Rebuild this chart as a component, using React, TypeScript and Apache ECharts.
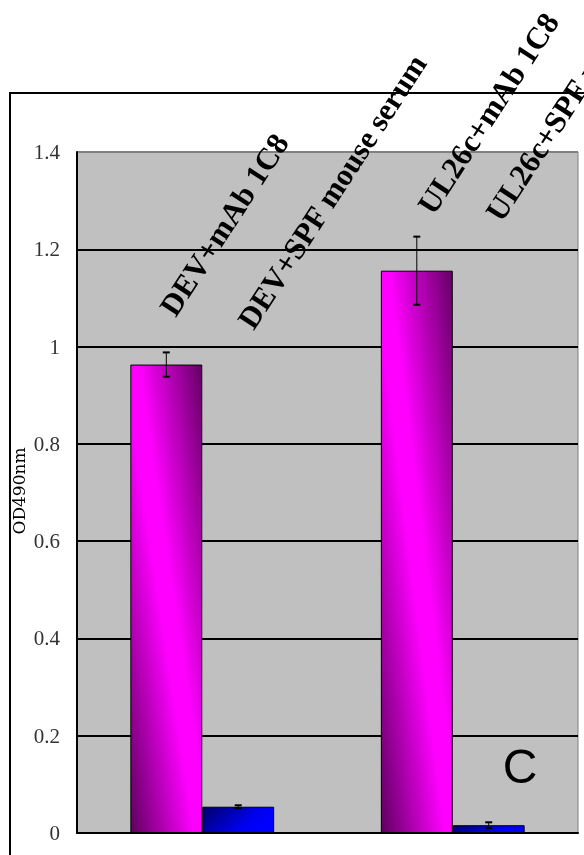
import React, { useEffect, useRef } from 'react';
import * as echarts from 'echarts';

// ---- data ----
const categories = ['DEV', 'UL26c'];
const mAbValues = [0.963, 1.156];
const mAbErrors = [0.025, 0.07];
const spfValues = [0.054, 0.016];
const spfErrors = [0.003, 0.006];
const yTicks = [0, 0.2, 0.4, 0.6, 0.8, 1, 1.2, 1.4];
const barLabels = ['DEV+mAb 1C8', 'DEV+SPF mouse serum', 'UL26c+mAb 1C8', 'UL26c+SPF mouse serum'];
const panelLetter = 'C';
const yName = 'OD490nm';

// ---- layout / style ----
const BAR_RATIO = 0.287;
const labelPos = [
  [180, 321],
  [258, 334],
  [438, 219],
  [506, 226],
];
const LABEL_ANGLE = 57;

export default function App() {
  const ref = useRef<HTMLDivElement>(null);
  useEffect(() => {
    if (!ref.current) return;
    const chart = echarts.init(ref.current, undefined, { renderer: 'svg' });

    const errData: number[][] = [];
    categories.forEach((_, i) => {
      errData.push([i, mAbValues[i], mAbErrors[i], 0]);
      errData.push([i, spfValues[i], spfErrors[i], 1]);
    });

    const magenta = new echarts.graphic.LinearGradient(0, 1, 1, 0, [
      { offset: 0, color: '#5e005e' },
      { offset: 0.45, color: '#ff00ff' },
      { offset: 0.55, color: '#ff00ff' },
      { offset: 1, color: '#640064' },
    ]);
    const blue = new echarts.graphic.LinearGradient(0, 0, 1, 0.4, [
      { offset: 0, color: '#000066' },
      { offset: 0.75, color: '#0000f0' },
      { offset: 1, color: '#0000ff' },
    ]);

    const splitColors = yTicks.map((t, i) => (i === yTicks.length - 1 ? '#808080' : '#000000'));

    const option: any = {
      animation: false,
      grid: {
        left: 77,
        right: 6,
        top: 152,
        bottom: 22,
        show: true,
        backgroundColor: '#C0C0C0',
        borderColor: '#808080',
        borderWidth: 1,
      },
      xAxis: {
        type: 'category',
        data: categories,
        axisLabel: { show: false },
        axisTick: { show: false },
        axisLine: { lineStyle: { color: '#000', width: 2 } },
        z: 5,
      },
      yAxis: {
        type: 'value',
        min: 0,
        max: yTicks[yTicks.length - 1],
        interval: 0.2,
        axisLine: { show: true, lineStyle: { color: '#000', width: 2 } },
        axisTick: { show: false },
        axisLabel: {
          color: '#333',
          fontFamily: 'Liberation Serif, serif',
          fontSize: 21,
          margin: 17,
        },
        splitLine: { show: true, lineStyle: { color: splitColors, width: 2 } },
      },
      series: [
        {
          name: 'mAb 1C8',
          type: 'bar',
          data: mAbValues,
          barWidth: (BAR_RATIO * 100).toFixed(1) + '%',
          barGap: '0%',
          itemStyle: { color: magenta, borderColor: '#000', borderWidth: 1 },
          z: 3,
        },
        {
          name: 'SPF mouse serum',
          type: 'bar',
          data: spfValues,
          barWidth: (BAR_RATIO * 100).toFixed(1) + '%',
          barGap: '0%',
          itemStyle: { color: blue, borderColor: '#000', borderWidth: 1 },
          z: 3,
        },
        {
          type: 'custom',
          data: errData,
          encode: { x: 0, y: 1 },
          z: 10,
          renderItem: (params: any, api: any) => {
            const cat = api.value(0);
            const val = api.value(1);
            const err = api.value(2);
            const slot = api.value(3);
            const bandW = api.size([1, 0])[0];
            const barW = bandW * BAR_RATIO;
            const c = api.coord([cat, val]);
            const x = c[0] + (slot === 0 ? -barW / 2 : barW / 2);
            const top = api.coord([cat, val + err])[1];
            const bot = api.coord([cat, val - err])[1];
            const cap = 3.5;
            return {
              type: 'group',
              children: [
                { type: 'line', shape: { x1: x, y1: top, x2: x, y2: bot }, style: { stroke: '#000', lineWidth: 1 } },
                { type: 'line', shape: { x1: x - cap, y1: top, x2: x + cap, y2: top }, style: { stroke: '#000', lineWidth: 2 } },
                { type: 'line', shape: { x1: x - cap, y1: bot, x2: x + cap, y2: bot }, style: { stroke: '#000', lineWidth: 2 } },
              ],
            };
          },
        },
      ],
      graphic: [
        {
          type: 'rect',
          shape: { x: 10, y: 93, width: 700, height: 900 },
          style: { fill: 'none', stroke: '#000', lineWidth: 2 },
          z: 1,
        },
        {
          type: 'text',
          x: 19,
          y: 491,
          rotation: Math.PI / 2,
          style: {
            text: yName,
            fontFamily: 'DejaVu Serif, serif',
            fontSize: 17,
            fill: '#000',
            textAlign: 'center',
            textVerticalAlign: 'middle',
          },
        },
        ...barLabels.map((t, i) => ({
          type: 'text',
          x: labelPos[i][0],
          y: labelPos[i][1],
          rotation: (LABEL_ANGLE * Math.PI) / 180,
          style: {
            text: t,
            fontFamily: 'Liberation Serif, Times New Roman, serif',
            fontWeight: 'bold',
            fontSize: 31,
            fill: '#000',
            textAlign: 'left',
            textVerticalAlign: 'bottom',
          },
          z: 20,
        })),
        {
          type: 'text',
          x: 520,
          y: 766,
          style: {
            text: panelLetter,
            fontFamily: 'Liberation Sans, Arial, sans-serif',
            fontSize: 48,
            fill: '#000',
            textAlign: 'center',
            textVerticalAlign: 'middle',
          },
          z: 20,
        },
      ],
    };
    chart.setOption(option);
    return () => chart.dispose();
  }, []);
  return <div ref={ref} style={{ position: 'fixed', left: 0, top: 0, width: 584, height: 855 }} />;
}
